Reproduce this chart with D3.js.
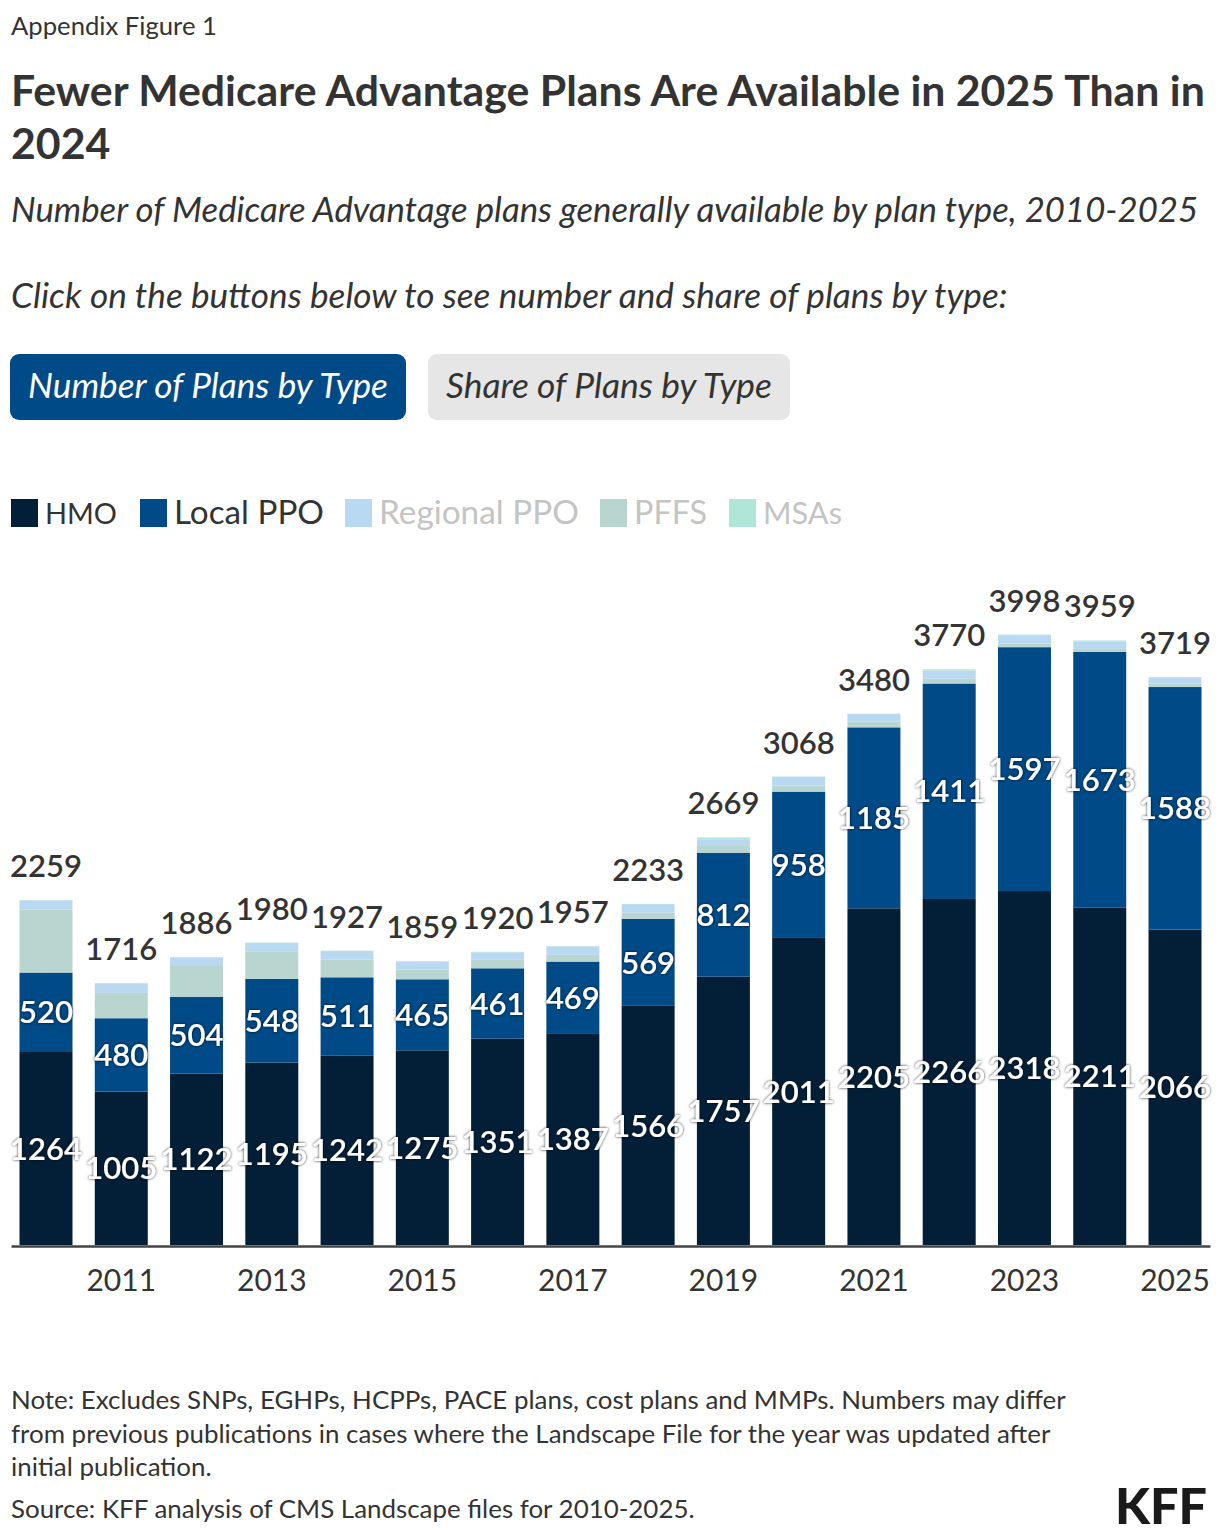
<!DOCTYPE html>
<html><head><meta charset="utf-8">
<script src="https://cdn.jsdelivr.net/npm/d3@7"></script>
<style>
html,body{margin:0;padding:0;background:#fff;}
svg text{font-family:Lato,"Source Sans Pro","Noto Sans",sans-serif;}
</style></head>
<body>
<svg id="chart" width="1220" height="1538"></svg>
<script>
const years = [2010,2011,2012,2013,2014,2015,2016,2017,2018,2019,2020,2021,2022,2023,2024,2025];
const hmo      = [1264,1005,1122,1195,1242,1275,1351,1387,1566,1757,2011,2205,2266,2318,2211,2066];
const localPPO = [520,480,504,548,511,465,461,469,569,812,958,1185,1411,1597,1673,1588];
const regionalPPO = [61,60,56,55,56,52,46,55,55,44,57,50,54,50,44,43];
const pffs     = [412,166,201,180,116,65,59,44,42,44,40,38,31,25,24,21];
const msas     = [2,5,3,2,2,2,3,2,1,12,2,2,8,8,7,1];
const totals   = [2259,1716,1886,1980,1927,1859,1920,1957,2233,2669,3068,3480,3770,3998,3959,3719];
const tickYears = [2011,2013,2015,2017,2019,2021,2023,2025];
const seriesNames = ["HMO","Local PPO","Regional PPO","PFFS","MSAs"];
const seriesColors = {"HMO":"#031f38","Local PPO":"#004a87","Regional PPO":"#b8d9f1","PFFS":"#b8d5d0","MSAs":"#afe6d8"};
const stackOrder = ["HMO","Local PPO","PFFS","Regional PPO","MSAs"];
const legendTextColors = ["#333333","#333333","#c4c4c4","#c4c4c4","#c4c4c4"];

const svg = d3.select("#chart");
const defs = svg.append("defs");
const f = defs.append("filter").attr("id","halo").attr("x","-20%").attr("y","-30%").attr("width","140%").attr("height","160%");
f.append("feDropShadow").attr("dx",0).attr("dy",0).attr("stdDeviation",1.6).attr("flood-color","#000").attr("flood-opacity",0.85);

function fit(sel, target){
  const n = sel.node();
  const fs = parseFloat(sel.attr("font-size"));
  const w = n.getComputedTextLength();
  sel.attr("font-size", (fs*target/w).toFixed(2));
  return sel;
}

// Header
fit(svg.append("text").attr("x",11).attr("y",35).attr("font-size",24).attr("fill","#333").text("Appendix Figure 1"), 206);
const t1 = svg.append("text").attr("x",11).attr("y",106).attr("font-size",40).attr("font-weight",700).attr("fill","#333")
  .text("Fewer Medicare Advantage Plans Are Available in 2025 Than in");
fit(t1, 1194);
svg.append("text").attr("x",11).attr("y",159).attr("font-weight",700).attr("fill","#333").attr("font-size",t1.attr("font-size")).text("2024");
svg.append("text").attr("x",11).attr("y",222).attr("font-size",32).attr("font-style","italic").attr("fill","#333")
  .text("Number of Medicare Advantage plans generally available by plan type, 2010-2025").call(s=>fit(s,1187));
svg.append("text").attr("x",11).attr("y",308).attr("font-size",32).attr("font-style","italic").attr("fill","#333")
  .text("Click on the buttons below to see number and share of plans by type:").call(s=>fit(s,997));

// Buttons
const buttons = [
  {label:"Number of Plans by Type", x:10, w:396, fill:"#004a87", color:"#ffffff", tw:360},
  {label:"Share of Plans by Type", x:428, w:362, fill:"#e6e6e6", color:"#333333", tw:326}
];
buttons.forEach(b=>{
  svg.append("rect").attr("x",b.x).attr("y",354).attr("width",b.w).attr("height",66).attr("rx",9).attr("fill",b.fill);
  svg.append("text").attr("x",b.x+b.w/2).attr("y",398).attr("text-anchor","middle").attr("font-size",32)
    .attr("font-style","italic").attr("fill",b.color).text(b.label).call(s=>fit(s,b.tw));
});

// Legend
const legendX = [11,140,345,600,729];
const legendTW = [72,150,200,73,79];
seriesNames.forEach((n,i)=>{
  svg.append("rect").attr("x",legendX[i]).attr("y",499).attr("width",27).attr("height",28).attr("fill",seriesColors[n]);
  svg.append("text").attr("x",legendX[i]+34).attr("y",524).attr("font-size",32).attr("fill",legendTextColors[i])
    .text(n).call(s=>fit(s,legendTW[i]));
});

// Chart
const x = d3.scaleBand().domain(years).range([11,1210]).paddingInner(0.296).paddingOuter(0.113);
const y = d3.scaleLinear().domain([0,4000]).range([1245,634.2]);

const rows = years.map((yr,i)=>({year:yr, "HMO":hmo[i], "Local PPO":localPPO[i], "Regional PPO":regionalPPO[i], "PFFS":pffs[i], "MSAs":msas[i], total:totals[i]}));
const stack = d3.stack().keys(stackOrder)(rows);

const g = svg.append("g");
stack.forEach(layer=>{
  g.append("g").selectAll("rect").data(layer).join("rect")
    .attr("x",d=>x(d.data.year)).attr("width",x.bandwidth())
    .attr("y",d=>y(d[1])).attr("height",d=>y(d[0])-y(d[1]))
    .attr("fill",seriesColors[layer.key]);
});

// segment labels for HMO and Local PPO
[0,1].forEach(li=>{
  g.append("g").selectAll("text").data(stack[li]).join("text")
    .attr("x",d=>x(d.data.year)+x.bandwidth()/2)
    .attr("y",d=>(y(d[0])+y(d[1]))/2)
    .attr("dy","0.36em").attr("text-anchor","middle")
    .attr("font-size",31).attr("font-weight",600).attr("fill","#fff")
    .attr("filter","url(#halo)")
    .text(d=>d.data[stack[li].key]);
});

// total labels
g.append("g").selectAll("text").data(rows).join("text")
  .attr("x",d=>x(d.year)+x.bandwidth()/2)
  .attr("y",d=>y(d.total)-23)
  .attr("text-anchor","middle").attr("font-size",31).attr("font-weight",600).attr("fill","#333")
  .text(d=>d.total);

// axis
const axis = d3.axisBottom(x).tickValues(tickYears).tickSize(0).tickPadding(24).tickFormat(d3.format("d"));
const ax = svg.append("g").attr("transform","translate(0,1246)").call(axis);
ax.select(".domain").attr("stroke","#444").attr("stroke-width",2.5);
ax.selectAll("text").attr("font-size",30).attr("fill","#333").style("font-family","Lato,sans-serif");

// Notes
const notes = [
  "Note: Excludes SNPs, EGHPs, HCPPs, PACE plans, cost plans and MMPs. Numbers may differ",
  "from previous publications in cases where the Landscape File for the year was updated after",
  "initial publication."
];
const noteY = [1409,1443,1476];
const n1 = svg.append("text").attr("x",11).attr("y",noteY[0]).attr("font-size",24).attr("fill","#333").text(notes[0]);
fit(n1,1055);
const nfs = n1.attr("font-size");
svg.append("text").attr("x",11).attr("y",noteY[1]).attr("font-size",nfs).attr("fill","#333").text(notes[1]);
svg.append("text").attr("x",11).attr("y",noteY[2]).attr("font-size",nfs).attr("fill","#333").text(notes[2]);
svg.append("text").attr("x",11).attr("y",1518).attr("font-size",nfs).attr("fill","#333").text("Source: KFF analysis of CMS Landscape files for 2010-2025.");
svg.append("text").attr("x",1207).attr("y",1524).attr("text-anchor","end").attr("font-size",48).attr("font-weight",900)
  .attr("fill","#1a1a1a").text("KFF").call(s=>fit(s,92));
</script>
</body></html>
